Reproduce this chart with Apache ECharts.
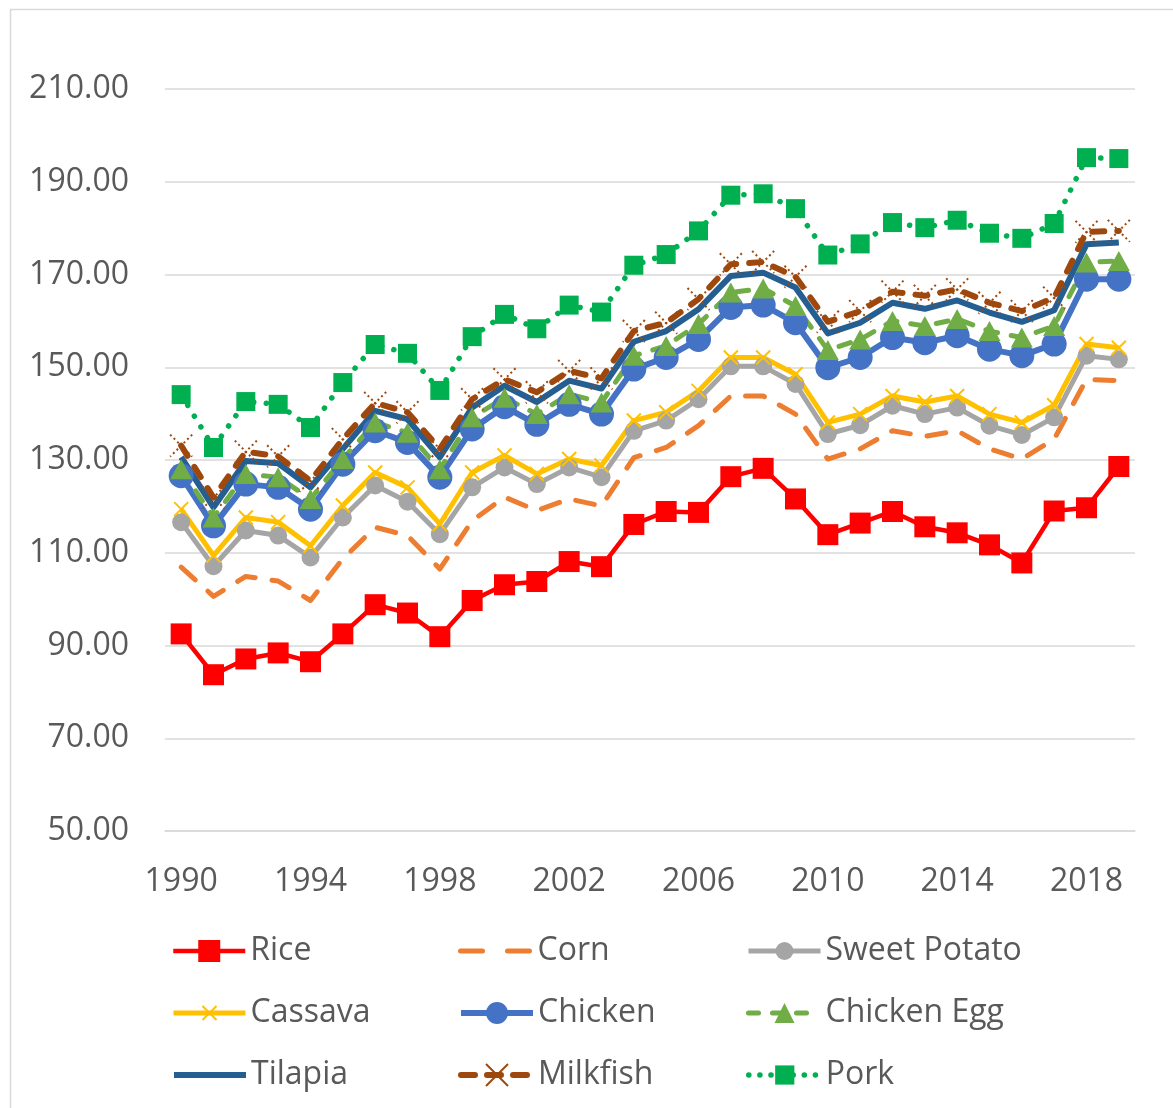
<!DOCTYPE html>
<html>
<head>
<meta charset="utf-8">
<script src="https://cdn.jsdelivr.net/npm/echarts@6/dist/echarts.min.js"></script>
<style>
  html, body { margin: 0; padding: 0; background: #ffffff; }
  #chart { width: 1173px; height: 1108px; }
</style>
</head>
<body>
<div id="chart"></div>
<script>
// Annual food series, 1990-2019
const years = ['1990','1991','1992','1993','1994','1995','1996','1997','1998','1999',
               '2000','2001','2002','2003','2004','2005','2006','2007','2008','2009',
               '2010','2011','2012','2013','2014','2015','2016','2017','2018','2019'];

const rice = [92.5, 83.7, 87.1, 88.4, 86.5, 92.5, 98.8, 97.0, 91.9, 99.7,
              103.1, 103.8, 108.1, 107.0, 116.1, 118.9, 118.7, 126.4, 128.2, 121.6,
              113.9, 116.4, 118.9, 115.6, 114.3, 111.7, 107.8, 119.0, 119.7, 128.6];
const corn = [106.9, 100.6, 104.9, 103.9, 99.7, 108.7, 115.5, 113.7, 106.5, 116.9,
              122.0, 119.1, 121.6, 120.1, 130.5, 132.7, 137.4, 143.8, 143.8, 139.9,
              130.2, 132.4, 136.3, 135.1, 136.3, 132.4, 130.2, 134.5, 147.4, 147.1];
const sweetPotato = [116.6, 107.1, 114.8, 113.7, 109.0, 117.6, 124.5, 121.0, 114.0, 124.1,
                     128.4, 124.8, 128.4, 126.3, 136.3, 138.5, 143.1, 150.2, 150.2, 146.4,
                     135.6, 137.5, 141.7, 139.9, 141.3, 137.4, 135.4, 139.2, 152.5, 151.7];
const cassava = [119.4, 109.4, 117.6, 116.6, 111.5, 120.2, 127.3, 124.1, 116.2, 127.3,
                 131.0, 127.0, 130.2, 128.8, 138.5, 140.3, 144.9, 152.1, 152.1, 148.5,
                 138.1, 139.9, 143.8, 142.5, 143.8, 139.9, 138.1, 141.8, 155.0, 154.2];
const chicken = [126.6, 115.8, 124.8, 124.1, 119.4, 129.1, 136.3, 133.8, 126.3, 136.7,
                 141.5, 137.7, 142.0, 139.9, 149.6, 152.1, 156.0, 162.9, 163.4, 159.6,
                 149.9, 152.1, 156.4, 155.3, 156.8, 153.9, 152.5, 155.0, 169.0, 169.0];
const chickenEgg = [128.0, 117.6, 127.0, 126.3, 121.6, 130.2, 138.1, 135.9, 128.0, 139.2,
                    143.4, 139.9, 144.2, 142.4, 152.5, 154.6, 159.3, 166.1, 167.0, 163.2,
                    153.7, 156.0, 160.0, 158.9, 160.4, 157.8, 156.4, 158.9, 172.6, 172.9];
const tilapia = [130.6, 119.8, 129.8, 129.3, 124.1, 132.4, 140.6, 138.8, 130.6, 141.3,
                 146.0, 142.5, 147.1, 145.4, 155.5, 157.8, 162.5, 169.7, 170.4, 167.2,
                 157.3, 159.6, 163.9, 162.6, 164.4, 161.8, 159.8, 162.3, 176.5, 176.9];
const milkfish = [133.1, 121.9, 131.8, 130.8, 125.5, 134.5, 142.3, 140.3, 132.4, 143.1,
                  147.4, 144.6, 149.2, 147.6, 157.8, 159.6, 164.7, 172.2, 172.7, 169.5,
                  159.8, 162.1, 166.3, 165.4, 166.8, 163.9, 162.1, 165.0, 179.2, 179.4];
const pork = [144.1, 132.7, 142.6, 142.0, 137.0, 146.7, 154.9, 153.0, 145.0, 156.6,
              161.4, 158.3, 163.4, 161.9, 172.0, 174.3, 179.4, 187.1, 187.4, 184.2,
              174.2, 176.6, 181.2, 180.1, 181.7, 178.9, 177.8, 181.0, 195.2, 195.0];

const FONT = 'Open Sans';
const TEXT = '#595959';
const GRID = '#D9D9D9';
const CROSS = 'path://M0,0L10,10M10,0L0,10';

function line(name, data, o) {
  return Object.assign({
    name: name,
    type: 'line',
    data: data,
    showAllSymbol: true,
    animation: false,
    emphasis: { disabled: true },
    silent: true
  }, o);
}

const series = [
  line('Rice', rice, {
    symbol: 'rect', symbolSize: 21,
    itemStyle: { color: '#FF0000', borderWidth: 0 },
    lineStyle: { color: '#FF0000', width: 4.5, join: 'round' }
  }),
  line('Corn', corn, {
    symbol: 'none',
    itemStyle: { color: '#ED7D31' },
    lineStyle: { color: '#ED7D31', width: 5, type: [19, 17], cap: 'round', join: 'round' }
  }),
  line('Sweet Potato', sweetPotato, {
    symbol: 'circle', symbolSize: 18,
    itemStyle: { color: '#A5A5A5', borderWidth: 0 },
    lineStyle: { color: '#A5A5A5', width: 5, join: 'round' }
  }),
  line('Cassava', cassava, {
    symbol: CROSS, symbolSize: 14,
    itemStyle: { color: 'rgba(0,0,0,0)', borderColor: '#FFC000', borderWidth: 2 },
    lineStyle: { color: '#FFC000', width: 5, join: 'round' }
  }),
  line('Chicken', chicken, {
    symbol: 'circle', symbolSize: 25,
    itemStyle: { color: '#4472C4', borderWidth: 0 },
    lineStyle: { color: '#4472C4', width: 6, join: 'round' }
  }),
  line('Chicken Egg', chickenEgg, {
    symbol: 'triangle', symbolSize: [22, 20],
    itemStyle: { color: '#70AD47', borderWidth: 0 },
    lineStyle: { color: '#70AD47', width: 5, type: [12, 14], cap: 'round', join: 'round' }
  }),
  line('Tilapia', tilapia, {
    symbol: 'none',
    itemStyle: { color: '#255E91' },
    lineStyle: { color: '#255E91', width: 6, join: 'round' }
  }),
  line('Milkfish', milkfish, {
    symbol: CROSS, symbolSize: 22,
    itemStyle: { color: 'rgba(0,0,0,0)', borderColor: '#9E480E', borderWidth: 2, borderType: [2, 3] },
    lineStyle: { color: '#9E480E', width: 6, type: [12, 13], cap: 'round', join: 'round' }
  }),
  line('Pork', pork, {
    symbol: 'rect', symbolSize: 19,
    itemStyle: { color: '#00B050', borderWidth: 0 },
    lineStyle: { color: '#00B050', width: 5.5, type: [0.1, 12.5], cap: 'round', join: 'round' }
  })
];

// Legend: 3 columns x 3 rows, one legend block per entry.
// Legend markers are drawn at 80% of itemHeight, so itemHeight sets each marker size.
const legendCols = [171, 458, 746];
const legendRows = [935, 997, 1059];
const legendMarker = {
  'Rice': 27.5, 'Corn': 25, 'Sweet Potato': 22.5,
  'Cassava': 17.5, 'Chicken': 27.5, 'Chicken Egg': 25,
  'Tilapia': 25, 'Milkfish': 27.5, 'Pork': 24
};
const legendDash = { 'Corn': [22, 25], 'Chicken Egg': [10, 14], 'Milkfish': [14, 12], 'Pork': [0.1, 11] };
const noMarker = { 'Corn': true, 'Tilapia': true };
const legends = series.map(function (s, i) {
  const item = { name: s.name };
  if (noMarker[s.name]) item.itemStyle = { opacity: 0 };
  return {
    left: legendCols[i % 3],
    top: legendRows[Math.floor(i / 3)],
    orient: 'horizontal',
    selectedMode: false,
    itemWidth: 72,
    itemHeight: legendMarker[s.name],
    padding: 0,
    data: [item],
    lineStyle: {
      width: s.lineStyle.width,
      type: legendDash[s.name] || s.lineStyle.type || 'solid',
      cap: s.lineStyle.cap || 'butt'
    },
    textStyle: { fontFamily: FONT, fontSize: 32, color: TEXT, padding: [0, 0, 0, 0] }
  };
});

const chart = echarts.init(document.getElementById('chart'), null, { renderer: 'canvas' });
chart.setOption({
  backgroundColor: '#ffffff',
  animation: false,
  graphic: [{
    type: 'rect',
    left: 8, top: 7,
    shape: { x: 0, y: 0, width: 1300, height: 1300 },
    style: { fill: 'none', stroke: GRID, lineWidth: 1.5 },
    silent: true,
    z: -10
  }],
  grid: { left: 165, right: 38, top: 89, bottom: 277, containLabel: false },
  legend: legends,
  xAxis: {
    type: 'category',
    data: years,
    boundaryGap: true,
    axisLine: { show: true, lineStyle: { color: GRID, width: 1.5 } },
    axisTick: { show: false },
    axisLabel: {
      interval: 3,
      margin: 35,
      fontFamily: FONT, fontSize: 32, color: TEXT
    },
    splitLine: { show: false }
  },
  yAxis: {
    type: 'value',
    min: 50, max: 210, interval: 20,
    axisLine: { show: false },
    axisTick: { show: false },
    axisLabel: {
      margin: 36,
      padding: [6, 0, 0, 0],
      fontFamily: FONT, fontSize: 32, color: TEXT,
      formatter: function (v) { return v.toFixed(2); }
    },
    splitLine: { show: true, lineStyle: { color: GRID, width: 1.5 } }
  },
  series: series
});
</script>
</body>
</html>
